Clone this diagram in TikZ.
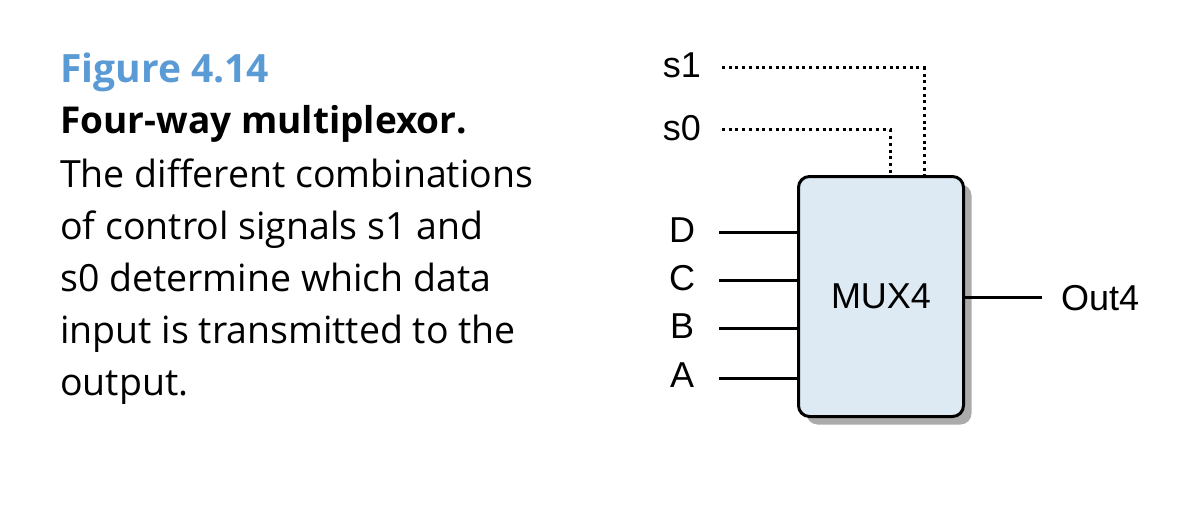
\documentclass[tikz,border=0pt]{standalone}
\usepackage{fontspec}
\setmainfont{Liberation Sans}
\newfontfamily\captionfont{Open Sans}
\usetikzlibrary{positioning,shadows}
\definecolor{figblue}{HTML}{5B9BD5}
\definecolor{muxfill}{HTML}{DDEAF3}
\definecolor{shadowgray}{HTML}{ABABAB}
\tikzset{
  pinlabel/.style={font=\fontsize{36}{40}\selectfont,inner sep=0pt,anchor=base},
  wire/.style={line width=3pt},
  ctrlwire/.style={line width=3pt,dash pattern=on 3pt off 3.7pt},
  muxbox/.style={draw,line width=3pt,rounded corners=11pt,fill=muxfill,
    minimum width=165pt,minimum height=240pt,inner sep=0pt,
    font=\fontsize{36}{40}\selectfont,
    drop shadow={shadow xshift=8pt,shadow yshift=-8pt,fill=shadowgray,opacity=1}},
  captext/.style={inner sep=0pt,anchor=base west,align=left,text=black}
}

\begin{document}
\begin{tikzpicture}[x=1pt,y=-1pt]
  \useasboundingbox (0,0) rectangle (1204,516);

  % caption
  \node[captext,text=figblue,font=\captionfont\bfseries\fontsize{39}{52}\selectfont]
    (figno) at (60,83) {Figure 4.14};
  \node[captext,font=\captionfont\bfseries\fontsize{37}{52}\selectfont]
    (figtitle) at (60,134) {Four-way multiplexor.};
  % base anchor sits on the last line
  \node[captext,font=\captionfont\fontsize{37.5}{52}\selectfont]
    (figbody) at (60,395) {The different combinations\\of control signals s1 and\\
      s0 determine which data\\input is transmitted to the\\output.};

  % multiplexor
  \node[muxbox] (mux) at (881,296.5) {MUX4};

  % control inputs
  \node[pinlabel] (s1) at (682,78) {s1};
  \node[pinlabel] (s0) at (682,140) {s0};
  \coordinate (s1in) at (722,68);
  \coordinate (s0in) at (722,130);
  \coordinate (s1turn) at (924,68);
  \coordinate (s0turn) at (890,130);
  \draw[ctrlwire] (s1in) -- (s1turn) -- (s1turn |- mux.north);
  \draw[ctrlwire] (s0in) -- (s0turn) -- (s0turn |- mux.north);

  % data inputs
  \node[pinlabel] (dlab) at (682,242) {D};
  \node[pinlabel] (clab) at (682,290) {C};
  \node[pinlabel] (blab) at (682,338) {B};
  \node[pinlabel] (alab) at (682,387) {A};
  \coordinate (din) at (719,232);
  \coordinate (cin) at (719,280);
  \coordinate (bin) at (719,328);
  \coordinate (ain) at (719,378);
  \foreach \p in {din,cin,bin,ain}{\draw[wire] (\p) -- (\p -| mux.west);}

  % output
  \coordinate (outend) at (1042,297);
  \draw[wire] (mux.east |- outend) -- (outend);
  \node[pinlabel,anchor=base west] (outlab) at (1061,310) {Out4};
\end{tikzpicture}
\end{document}
